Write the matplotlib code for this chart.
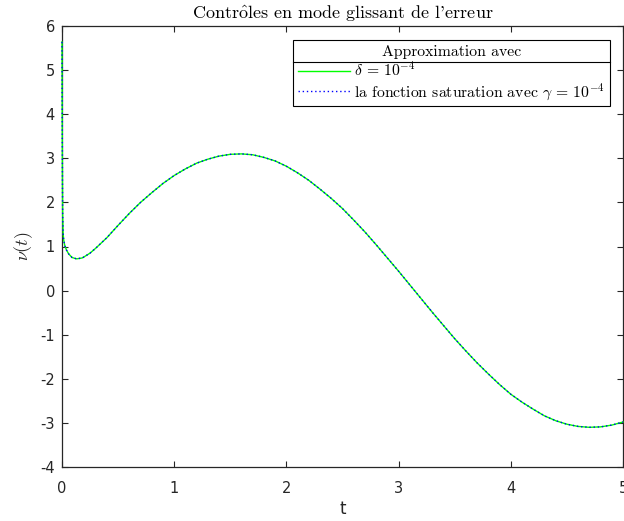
import matplotlib
matplotlib.use('Agg')
import matplotlib.pyplot as plt
from matplotlib.lines import Line2D

plt.rcParams['mathtext.fontset'] = 'cm'
plt.rcParams['axes.unicode_minus'] = False

# values
t = [0.0, 0.002, 0.004, 0.006, 0.010, 0.015, 0.025, 0.04, 0.06, 0.09,
     0.13, 0.18, 0.2, 0.25, 0.3, 0.4, 0.5, 0.6, 0.7, 0.8, 0.9, 1.0,
     1.1, 1.2, 1.3, 1.4, 1.5, 1.6, 1.7, 1.8, 1.9, 2.0, 2.1, 2.2, 2.3,
     2.4, 2.5, 2.6, 2.7, 2.8, 2.9, 3.0, 3.1, 3.2, 3.3, 3.4, 3.5, 3.6,
     3.7, 3.8, 3.9, 4.0, 4.1, 4.2, 4.3, 4.4, 4.5, 4.6, 4.7, 4.8, 4.9, 5.0]
nu_delta = [5.64, 4.0, 2.5, 1.7, 1.3, 1.15, 1.02, 0.92, 0.83, 0.75,
            0.72, 0.74, 0.77, 0.85, 0.96, 1.20, 1.48, 1.75, 2.00, 2.22, 2.43, 2.61,
            2.76, 2.89, 2.98, 3.05, 3.09, 3.10, 3.08, 3.02, 2.94, 2.82, 2.67, 2.50, 2.30,
            2.09, 1.86, 1.60, 1.33, 1.04, 0.74, 0.44, 0.13, -0.18, -0.49, -0.79, -1.09, -1.37,
            -1.64, -1.89, -2.13, -2.35, -2.53, -2.69, -2.84, -2.95, -3.03, -3.08, -3.10, -3.09, -3.05, -2.98]
nu_sat = list(nu_delta)  # both approximations overlap in the picture

xticks = [0, 1, 2, 3, 4, 5]
yticks = [-4, -3, -2, -1, 0, 1, 2, 3, 4, 5, 6]

fig = plt.figure(figsize=(6.24, 5.21), dpi=100)
ax = fig.add_axes([62/624, 54/521, 561/624, 441/521])

l1, = ax.plot(t, nu_delta, color=(0, 1, 0), lw=1.0, zorder=3, clip_on=False)
l2, = ax.plot(t, nu_sat, color=(0, 0, 1), lw=1.0, ls=(0, (1, 2)), zorder=3, clip_on=False)

ax.set_xlim(0, 5)
ax.set_ylim(-4, 6)
ax.set_xticks(xticks)
ax.set_yticks(yticks)
ax.tick_params(direction='in', top=True, right=True, length=4, width=0.8,
               labelsize=10.5, colors='#262626', pad=5)
ax.tick_params(axis='x', pad=10)
for s in ax.spines.values():
    s.set_color('#262626')
    s.set_linewidth(0.9)

ax.set_xlabel('t', fontsize=12, color='#262626', labelpad=3)
ax.set_ylabel(r'$\nu(t)$', fontsize=13, color='#262626', labelpad=4)
ax.set_title(r"Contr$\mathrm{\hat{o}}$les en mode glissant de l'erreur",
             family='cmr10', fontsize=13, pad=5)

leg = ax.legend([l1, l2],
                [r'$\delta \,=\, 10^{-4}$', r'la fonction saturation avec $\gamma \,=\, 10^{-4}$'],
                title='Approximation avec', loc='upper right',
                bbox_to_anchor=(0.9765, 0.968), fancybox=False, framealpha=1,
                edgecolor='black', handlelength=3.3, handletextpad=0.3,
                borderaxespad=0, borderpad=0.3, labelspacing=0.12,
                prop={'family': 'cmr10', 'size': 11.3},
                title_fontproperties={'family': 'cmr10', 'size': 11.3})
leg.get_frame().set_linewidth(0.8)

# separator under the legend title (MATLAB style)
fig.canvas.draw()
r = fig.canvas.get_renderer()
fb = leg.get_frame().get_window_extent(r)
tb = leg.get_title().get_window_extent(r)
yline = (tb.y0 - 3) / fig.bbox.height
fig.add_artist(Line2D([fb.x0 / fig.bbox.width, fb.x1 / fig.bbox.width], [yline, yline],
                      color='black', lw=0.8, transform=fig.transFigure))

fig.savefig('out.png', dpi=100)
